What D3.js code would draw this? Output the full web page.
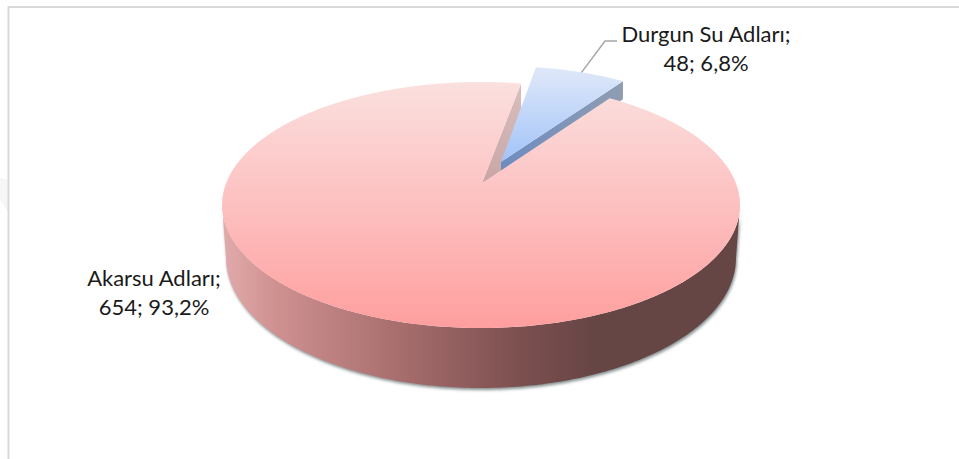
<!DOCTYPE html>
<html><head><meta charset="utf-8">
<script src="https://cdn.jsdelivr.net/npm/d3@7"></script>
<style>html,body{margin:0;padding:0;background:#fff}svg{display:block}</style></head>
<body><svg id="c" width="959" height="459"></svg>
<script>
const categories = ["Durgun Su Adları", "Akarsu Adları"];
const values = [48, 654];
const deg = Math.PI / 180;

const svg = d3.select("#c");
const defs = svg.append("defs");
function grad(id, x1, y1, x2, y2, stops) {
  const g = defs.append("linearGradient").attr("id", id).attr("gradientUnits", "userSpaceOnUse")
    .attr("x1", x1).attr("y1", y1).attr("x2", x2).attr("y2", y2);
  stops.forEach(s => g.append("stop").attr("offset", s[0]).attr("stop-color", s[1]));
}
grad("topRed", 0, 82, 0, 328, [[0, "#fae0de"], [0.5, "#fdc0c0"], [1, "#ff9e9e"]]);
grad("sideRed", 225, 0, 740, 0, [[0, "#e0aaaa"], [0.1, "#cf9090"], [0.35, "#a56c6c"], [0.55, "#805252"], [0.72, "#664444"], [1, "#664444"]]);
grad("topBlue", 0, 68, 0, 165, [[0, "#dfe8f9"], [1, "#a0c2f8"]]);
grad("wallBlue", 501, 0, 623, 0, [[0, "#6d8cc0"], [1, "#8f9db2"]]);
grad("wallRed", 0, 84, 0, 183, [[0, "#d8bebe"], [1, "#c9a6a6"]]);
const f = defs.append("filter").attr("id", "sh").attr("x", "-5%").attr("y", "-5%").attr("width", "110%").attr("height", "115%");
f.append("feGaussianBlur").attr("in", "SourceAlpha").attr("stdDeviation", 1.6).attr("result", "b");
f.append("feOffset").attr("in", "b").attr("dx", 0.5).attr("dy", 2).attr("result", "o");
f.append("feFlood").attr("flood-color", "#5f6b6b").attr("flood-opacity", 0.75);
f.append("feComposite").attr("in2", "o").attr("operator", "in").attr("result", "s");
const m = f.append("feMerge"); m.append("feMergeNode").attr("in", "s"); m.append("feMergeNode").attr("in", "SourceGraphic");

// frame + faint corner shape
const line = d3.line();
svg.append("path").attr("d", line([[0,178],[8,180],[8,212],[0,200]])).attr("fill", "#f6f6f6");
svg.append("path").attr("d", "M8.5 459V7H959").attr("fill", "none").attr("stroke", "#d9d9d9").attr("stroke-width", 2);

// angles come from the data; a perspective calibration maps them on the drawn ellipse
const start = 10 * deg;
const pie = d3.pie().sort(null).startAngle(start).endAngle(start + 2 * Math.PI);
const arcs = pie(values);
const blueAngle = d3.scaleLinear().domain([arcs[0].startAngle, arcs[0].endAngle]).range([10 * deg, 36 * deg]);
const redAngle = d3.scaleLinear().domain([arcs[1].startAngle, arcs[1].endAngle]).range([29.8 * deg, 368.9 * deg]);

const topE = { cx: 481, cy: 205, rx: 259, ry: 123 };
const botE = { cx: 481, cy: 258, rx: 255, ry: 130 };
const blueE = { cx: 499.5, cy: 146, rx: 210, ry: 80 };
const P = (e, a) => [e.cx + e.rx * Math.sin(a), e.cy - e.ry * Math.cos(a)];
const sweep = (e, a0, a1, n = 180) => d3.range(n + 1).map(i => P(e, a0 + (a1 - a0) * i / n));

// main slice: side
const side = sweep(topE, 90 * deg, 270 * deg).concat(sweep(botE, 270 * deg, 90 * deg));
svg.append("path").attr("d", line(side) + "Z").attr("fill", "url(#sideRed)").attr("filter", "url(#sh)");

// inner wall of the notch
const apexRed = [482, 183], apexBlue = [501, 162];
const a1 = redAngle(arcs[1].endAngle), a0 = redAngle(arcs[1].startAngle);
const notchTop = P(topE, a1);
svg.append("path").attr("d", line([notchTop, apexRed, [apexBlue[0], apexBlue[1] + 12], [notchTop[0], notchTop[1] + 26]]) + "Z").attr("fill", "url(#wallRed)");

// blue slice: wall + top
const bL = blueAngle(arcs[0].startAngle), bR = blueAngle(arcs[0].endAngle);
const bEnd = P(blueE, bR);
svg.append("path").attr("d", line([bEnd, [bEnd[0], bEnd[1] + 18], [600, 115], [apexBlue[0], apexBlue[1] + 12], apexBlue]) + "Z").attr("fill", "url(#wallBlue)");
svg.append("path").attr("d", line([apexBlue].concat(sweep(blueE, bL, bR, 40))) + "Z").attr("fill", "url(#topBlue)");

// main slice: top
svg.append("path").attr("d", line([apexRed].concat(sweep(topE, a0, a1, 360))) + "Z").attr("fill", "url(#topRed)");

// leader
svg.append("path").attr("d", line([P(blueE, (bL + bR) / 2), [605, 41], [617, 41]])).attr("fill", "none").attr("stroke", "#a6a6a6").attr("stroke-width", 1.5);

// labels
const total = d3.sum(values);
const pct = v => d3.format(".1f")(v / total * 100).replace(".", ",") + "%";
const labels = [{ i: 0, x: 706, y: [42, 71] }, { i: 1, x: 154, y: [286, 315] }];
labels.forEach(l => {
  const t = svg.append("text").attr("text-anchor", "middle").attr("font-family", "Lato,sans-serif").attr("font-size", 22).attr("fill", "#1a1a1a");
  t.append("tspan").attr("x", l.x).attr("y", l.y[0]).text(categories[l.i] + ";");
  t.append("tspan").attr("x", l.x).attr("y", l.y[1]).text(values[l.i] + "; " + pct(values[l.i]));
});
</script></body></html>
